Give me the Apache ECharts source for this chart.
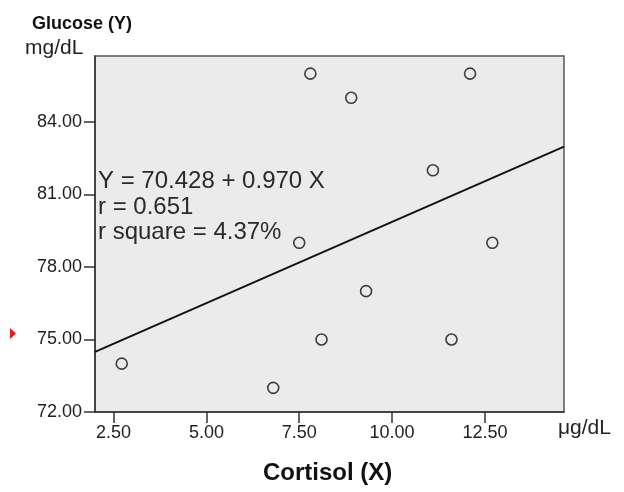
<!DOCTYPE html>
<html>
<head>
<meta charset="utf-8">
<script src="https://cdn.jsdelivr.net/npm/echarts@6/dist/echarts.min.js"></script>
<style>
html,body{margin:0;padding:0;background:#fff;}
#chart{width:624px;height:492px;}
</style>
</head>
<body>
<div id="chart"></div>
<script>
// Data
const cortisol = [2.72, 6.8, 7.5, 7.8, 8.1, 8.9, 9.3, 11.1, 11.6, 12.1, 12.7];
const glucose  = [74, 73, 79, 86, 75, 85, 77, 82, 75, 86, 79];
const fitX = [2.0, 14.63];
const fitY = [74.49, 82.98];
const xTicks = [2.5, 5, 7.5, 10, 12.5];
const yTicks = [72, 75, 78, 81, 84];
const xRange = [2.0, 14.63];
const yRange = [72, 86.73];
const eqLines = ['Y = 70.428 + 0.970 X', 'r = 0.651', 'r square = 4.37%'];
const yTitle = 'Glucose (Y)';
const yUnit = 'mg/dL';
const xTitle = 'Cortisol (X)';
const xUnit = 'μg/dL';

const FONT = '"Liberation Sans", Arial, sans-serif';
const chart = echarts.init(document.getElementById('chart'), null, {renderer: 'canvas'});

const points = cortisol.map((x, i) => [x, glucose[i]]);
const fit = fitX.map((x, i) => [x, fitY[i]]);

chart.setOption({
  animation: false,
  backgroundColor: '#ffffff',
  grid: {
    left: 95, right: 60, top: 56, bottom: 80,
    show: true, backgroundColor: '#ebebeb', borderColor: '#555', borderWidth: 1.5,
    containLabel: false, outerBoundsMode: 'none'
  },
  xAxis: {
    type: 'value', min: xRange[0], max: xRange[1],
    axisLine: {show: true, onZero: false, lineStyle: {color: '#333', width: 1.5}},
    axisTick: {show: true, length: 11, inside: false, customValues: xTicks, lineStyle: {color: '#333', width: 1.5}},
    axisLabel: {show: true, margin: 12, customValues: xTicks, color: '#222', fontFamily: FONT, fontSize: 18,
      formatter: v => v.toFixed(2)},
    splitLine: {show: false}
  },
  yAxis: {
    type: 'value', min: yRange[0], max: yRange[1],
    axisLine: {show: true, onZero: false, lineStyle: {color: '#333', width: 1.5}},
    axisTick: {show: true, length: 11, customValues: yTicks, lineStyle: {color: '#333', width: 1.5}},
    axisLabel: {show: true, margin: 13, customValues: yTicks, color: '#222', fontFamily: FONT, fontSize: 18,
      formatter: v => v.toFixed(2)},
    splitLine: {show: false}
  },
  series: [
    {
      type: 'line', data: fit, symbol: 'none', silent: true,
      lineStyle: {color: '#111', width: 2}, z: 2
    },
    {
      type: 'scatter', data: points, symbol: 'circle', symbolSize: 11,
      itemStyle: {color: 'rgba(0,0,0,0)', borderColor: '#111', borderWidth: 1.6}, z: 3
    }
  ],
  graphic: [
    {type: 'text', left: 32, top: 15, style: {text: yTitle, fill: '#111', font: 'bold 18px ' + FONT}},
    {type: 'text', left: 25, top: 38, style: {text: yUnit, fill: '#222', font: '21px ' + FONT}},
    {type: 'text', left: 558, top: 418, style: {text: xUnit, fill: '#222', font: '21px ' + FONT}},
    {type: 'text', left: 263, top: 461, style: {text: xTitle, fill: '#111', font: 'bold 24px ' + FONT}},
    {type: 'text', left: 98, top: 169, style: {text: eqLines[0], fill: '#2a2a2a', font: '24px ' + FONT}},
    {type: 'text', left: 98, top: 195, style: {text: eqLines[1], fill: '#2a2a2a', font: '24px ' + FONT}},
    {type: 'text', left: 98, top: 220, style: {text: eqLines[2], fill: '#2a2a2a', font: '24px ' + FONT}},
    {type: 'polygon', shape: {points: [[10, 328], [16, 333.5], [10, 339]]}, style: {fill: '#e02020'}}
  ]
});
</script>
</body>
</html>
